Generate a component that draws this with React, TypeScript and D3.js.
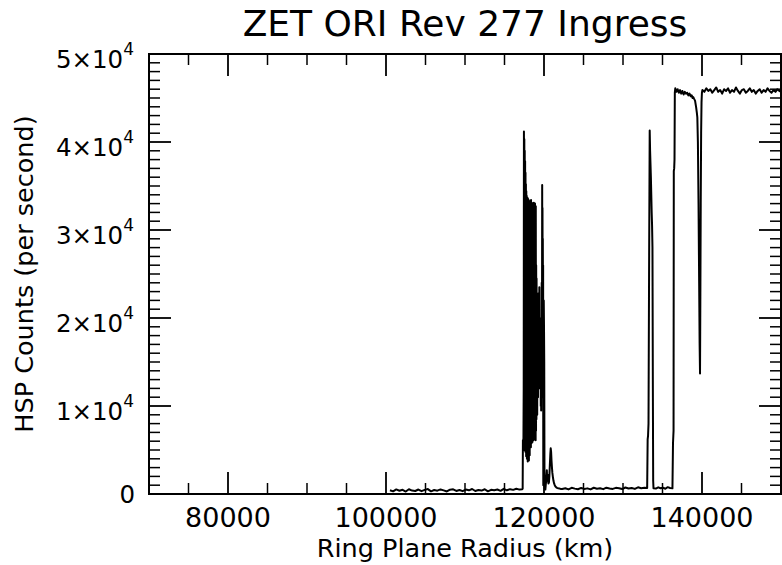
import React from 'react';
import * as d3 from 'd3';

const TITLE = 'ZET ORI Rev 277 Ingress';
const X_LABEL = 'Ring Plane Radius (km)';
const Y_LABEL = 'HSP Counts (per second)';

const X_DOMAIN = [70000, 150000];
const Y_DOMAIN = [0, 50000];
const xMajorTicks = [80000, 100000, 120000, 140000];
const yMajorTicks = [0, 10000, 20000, 30000, 40000, 50000];
const yTickMantissa = ['0', '1', '2', '3', '4', '5'];
const yTickExponent = ['', '4', '4', '4', '4', '4'];

// Inner baseline (opaque B ring)
const innerKm = [100500,100900,101300,101700,102100,102500,102900,103300,103700,104100,104500,104900,105300,105700,106100,106500,106900,107300,107700,108100,108500,108900,109300,109700,110100,110500,110900,111300,111700,112100,112500,112900,113300,113700,114100,114500,114900,115300,115700,116100,116500,116900,117250];
const innerCounts = [430,300,520,370,480,280,540,390,340,510,320,470,560,300,450,380,520,410,290,490,530,350,460,320,500,420,570,340,460,390,540,300,480,430,510,360,590,420,550,470,600,500,540];

// Dense ringlet region (Cassini division)
const ringKm = [117300,117330,117370,117400,117430,117460,117490,117510,117540,117560,117590,117610,117640,117660,117690,117710,117740,117760,117790,117810,117840,117860,117890,117910,117940,117960,117990,118010,118040,118060,118090,118110,118140,118160,118190,118210,118240,118260,118290,118310,118340,118360,118390,118410,118440,118460,118490,118510,118540,118560,118590,118610,118640,118660,118690,118710,118740,118760,118790,118810,118840,118860,118890,118910,118940,118960,118990,119010,119040,119060,119090,119110,119140,119160,119190,119210,119240,119260,119290,119310,119340,119360,119390,119410,119440,119460,119490,119510,119540,119560,119590,119610,119640,119660,119690,119710,119740,119770,119790,119810,119830,119850,119870,119890,119910,119940,119970,120000,120030,120060,120090,120130,120170,120210,120260,120310,120360,120400,120450,120500,120560,120620,120680,120740,120800,120850,120900,120950,121000,121060,121130,121200,121280,121360,121450,121550,121650,121800,121950,122100];
const ringCounts = [600,6100,5800,6400,12000,41200,5600,40300,5000,39000,6200,37800,4800,36500,5900,35200,4300,34400,5200,33900,4000,33700,4600,32400,3700,33600,3900,31800,4200,33400,3800,32900,5100,33300,4400,31500,5600,33200,6000,32600,5300,33400,6400,30800,5800,33100,6700,32200,5900,33000,6500,31400,6100,32800,6900,33100,6300,30500,7000,32900,6200,33000,6800,31200,6100,32700,7200,26000,8500,24500,10500,22000,9000,20500,12500,21800,11000,19000,13500,22800,12000,21000,14500,23500,13000,20000,15500,18500,12500,17000,10000,16000,9500,19000,11000,24000,14000,35100,20000,32500,22500,29000,21000,26000,1000,12500,22000,19000,15000,2500,600,1200,500,900,1400,1900,2700,1600,2200,1500,1200,1300,2000,3300,4500,5200,4800,3800,3100,2400,1900,1500,1200,1000,850,760,700,650,620,580];

// Middle baseline (A ring)
const middleKm = [122300,122700,123100,123500,123900,124300,124700,125100,125500,125900,126300,126700,127100,127500,127900,128300,128700,129100,129500,129900,130300,130700,131100,131500,131900,132300,132700,133060];
const middleCounts = [560,650,520,700,610,540,690,580,640,520,710,600,660,550,720,630,580,700,650,560,740,620,690,580,760,650,700,680];

// Encke gap spike
const spikeKm = [133120,133170,133230,133300,133380,133430,133480,133530,133580,133630,133680,133730,133780,133820,133860];
const spikeCounts = [6200,6600,8000,25000,41300,39000,37500,36000,34000,32000,30500,28000,12000,1500,650];

// Outer A ring baseline
const outerKm = [134160,134460,134760,135060,135360,135660,135960,136260];
const outerCounts = [620,760,650,720,600,780,680,650];

// Ring edge, plateau, F-ring dip and free space
const edgeKm = [136330,136370,136400,136430,136480,136520,136560,136620,136770,136920,137070,137220,137370,137520,137670,137820,137970,138120,138270,138420,138570,138700,138800,138900,139000,139120,139250,139350,139410,139480,139560,139640,139700,139750,139790,139840,139890,139940,139990,140050,140300,140550,140800,141050,141300,141550,141800,142050,142300,142550,142800,143050,143300,143550,143800,144050,144300,144550,144800,145050,145300,145550,145800,146050,146300,146550,146800,147050,147300,147550,147800,148050,148300,148550,148800,149050,149300,149550,149800,150000];
const edgeCounts = [5800,6600,7200,36700,37000,38000,45600,46100,45700,46000,45600,45900,45500,45800,45400,45700,45500,45600,45300,45500,45200,45300,45000,45100,44900,44700,44000,43300,42800,40000,33000,24000,17000,13700,22000,33000,41000,44500,45600,45900,45700,46100,45800,46000,45600,45900,46200,45700,45900,45500,46000,45800,46100,45600,45900,45700,46200,45800,45500,45900,46000,45600,45800,46100,45700,45900,45500,45800,46000,45600,45900,45700,46100,45800,45600,45900,45700,46000,45800,45700];

const radiusKm = [...innerKm, ...ringKm, ...middleKm, ...spikeKm, ...outerKm, ...edgeKm];
const hspCounts = [...innerCounts, ...ringCounts, ...middleCounts, ...spikeCounts, ...outerCounts, ...edgeCounts];

const FONT = 'DejaVu Sans, sans-serif';

export default function App() {
  const W = 782;
  const H = 565;
  const left = 149, right = 781, top = 54, bottom = 494;
  const x = d3.scaleLinear().domain(X_DOMAIN).range([left, right]);
  const y = d3.scaleLinear().domain(Y_DOMAIN).range([bottom, top]);
  const xMinor = d3.range(X_DOMAIN[0], X_DOMAIN[1] + 1, 5000).filter((v) => !xMajorTicks.includes(v));
  const yMinor = d3.range(Y_DOMAIN[0], Y_DOMAIN[1] + 1, 1000).filter((v) => v % 10000 !== 0);
  const pts = radiusKm.map((r, i) => [r, hspCounts[i]] as [number, number]);
  const line = d3.line<[number, number]>().x((d) => x(d[0])).y((d) => y(d[1]));
  const MAJ = 22, MIN = 11;

  return (
    <svg width={W} height={H} style={{ position: 'absolute', left: 0, top: 0, background: '#fff' }} fontFamily={FONT}>
      <defs>
        <clipPath id="plot">
          <rect x={left} y={top} width={right - left} height={bottom - top} />
        </clipPath>
      </defs>
      <rect x={0} y={0} width={W} height={H} fill="#fff" />
      <text x={(left + right) / 2} y={36} textAnchor="middle" fontSize={36} fill="#000">{TITLE}</text>

      <path d={line(pts) || ''} fill="none" stroke="#000" strokeWidth={2} strokeLinejoin="round" clipPath="url(#plot)" />

      <g stroke="#000">
        {xMinor.map((v) => (
          <g key={'xm' + v}>
            <line x1={x(v)} x2={x(v)} y1={bottom} y2={bottom - MIN} strokeWidth={1.5} />
            <line x1={x(v)} x2={x(v)} y1={top} y2={top + MIN} strokeWidth={1.5} />
          </g>
        ))}
        {xMajorTicks.map((v) => (
          <g key={'xM' + v}>
            <line x1={x(v)} x2={x(v)} y1={bottom} y2={bottom - MAJ} strokeWidth={1.8} />
            <line x1={x(v)} x2={x(v)} y1={top} y2={top + MAJ} strokeWidth={1.8} />
          </g>
        ))}
        {yMinor.map((v) => (
          <g key={'ym' + v}>
            <line x1={left} x2={left + MIN} y1={y(v)} y2={y(v)} strokeWidth={1.5} />
            <line x1={right} x2={right - MIN} y1={y(v)} y2={y(v)} strokeWidth={1.5} />
          </g>
        ))}
        {yMajorTicks.map((v) => (
          <g key={'yM' + v}>
            <line x1={left} x2={left + MAJ} y1={y(v)} y2={y(v)} strokeWidth={1.8} />
            <line x1={right} x2={right - MAJ} y1={y(v)} y2={y(v)} strokeWidth={1.8} />
          </g>
        ))}
      </g>
      <rect x={left} y={top} width={right - left} height={bottom - top} fill="none" stroke="#000" strokeWidth={2} />

      {xMajorTicks.map((v) => (
        <text key={'xl' + v} x={x(v)} y={527} textAnchor="middle" fontSize={27} fill="#000">{String(v)}</text>
      ))}
      {yMajorTicks.map((v, i) => (
        i === 0 ? (
          <text key={'yl' + v} x={135} y={y(v) + 9} textAnchor="end" fontSize={24.5} fill="#000">{yTickMantissa[i]}</text>
        ) : (
          <text key={'yl' + v} x={134} y={y(v) + 14} textAnchor="end" fontSize={24.5} fill="#000">
            {yTickMantissa[i] + '×10'}
            <tspan fontSize={17} dy={-13}>{yTickExponent[i]}</tspan>
          </text>
        )
      ))}

      <text x={(left + right) / 2} y={557} textAnchor="middle" fontSize={25.5} fill="#000">{X_LABEL}</text>
      <text transform={`translate(33, ${(top + bottom) / 2}) rotate(-90)`} textAnchor="middle" fontSize={25.5} fill="#000">{Y_LABEL}</text>
    </svg>
  );
}
